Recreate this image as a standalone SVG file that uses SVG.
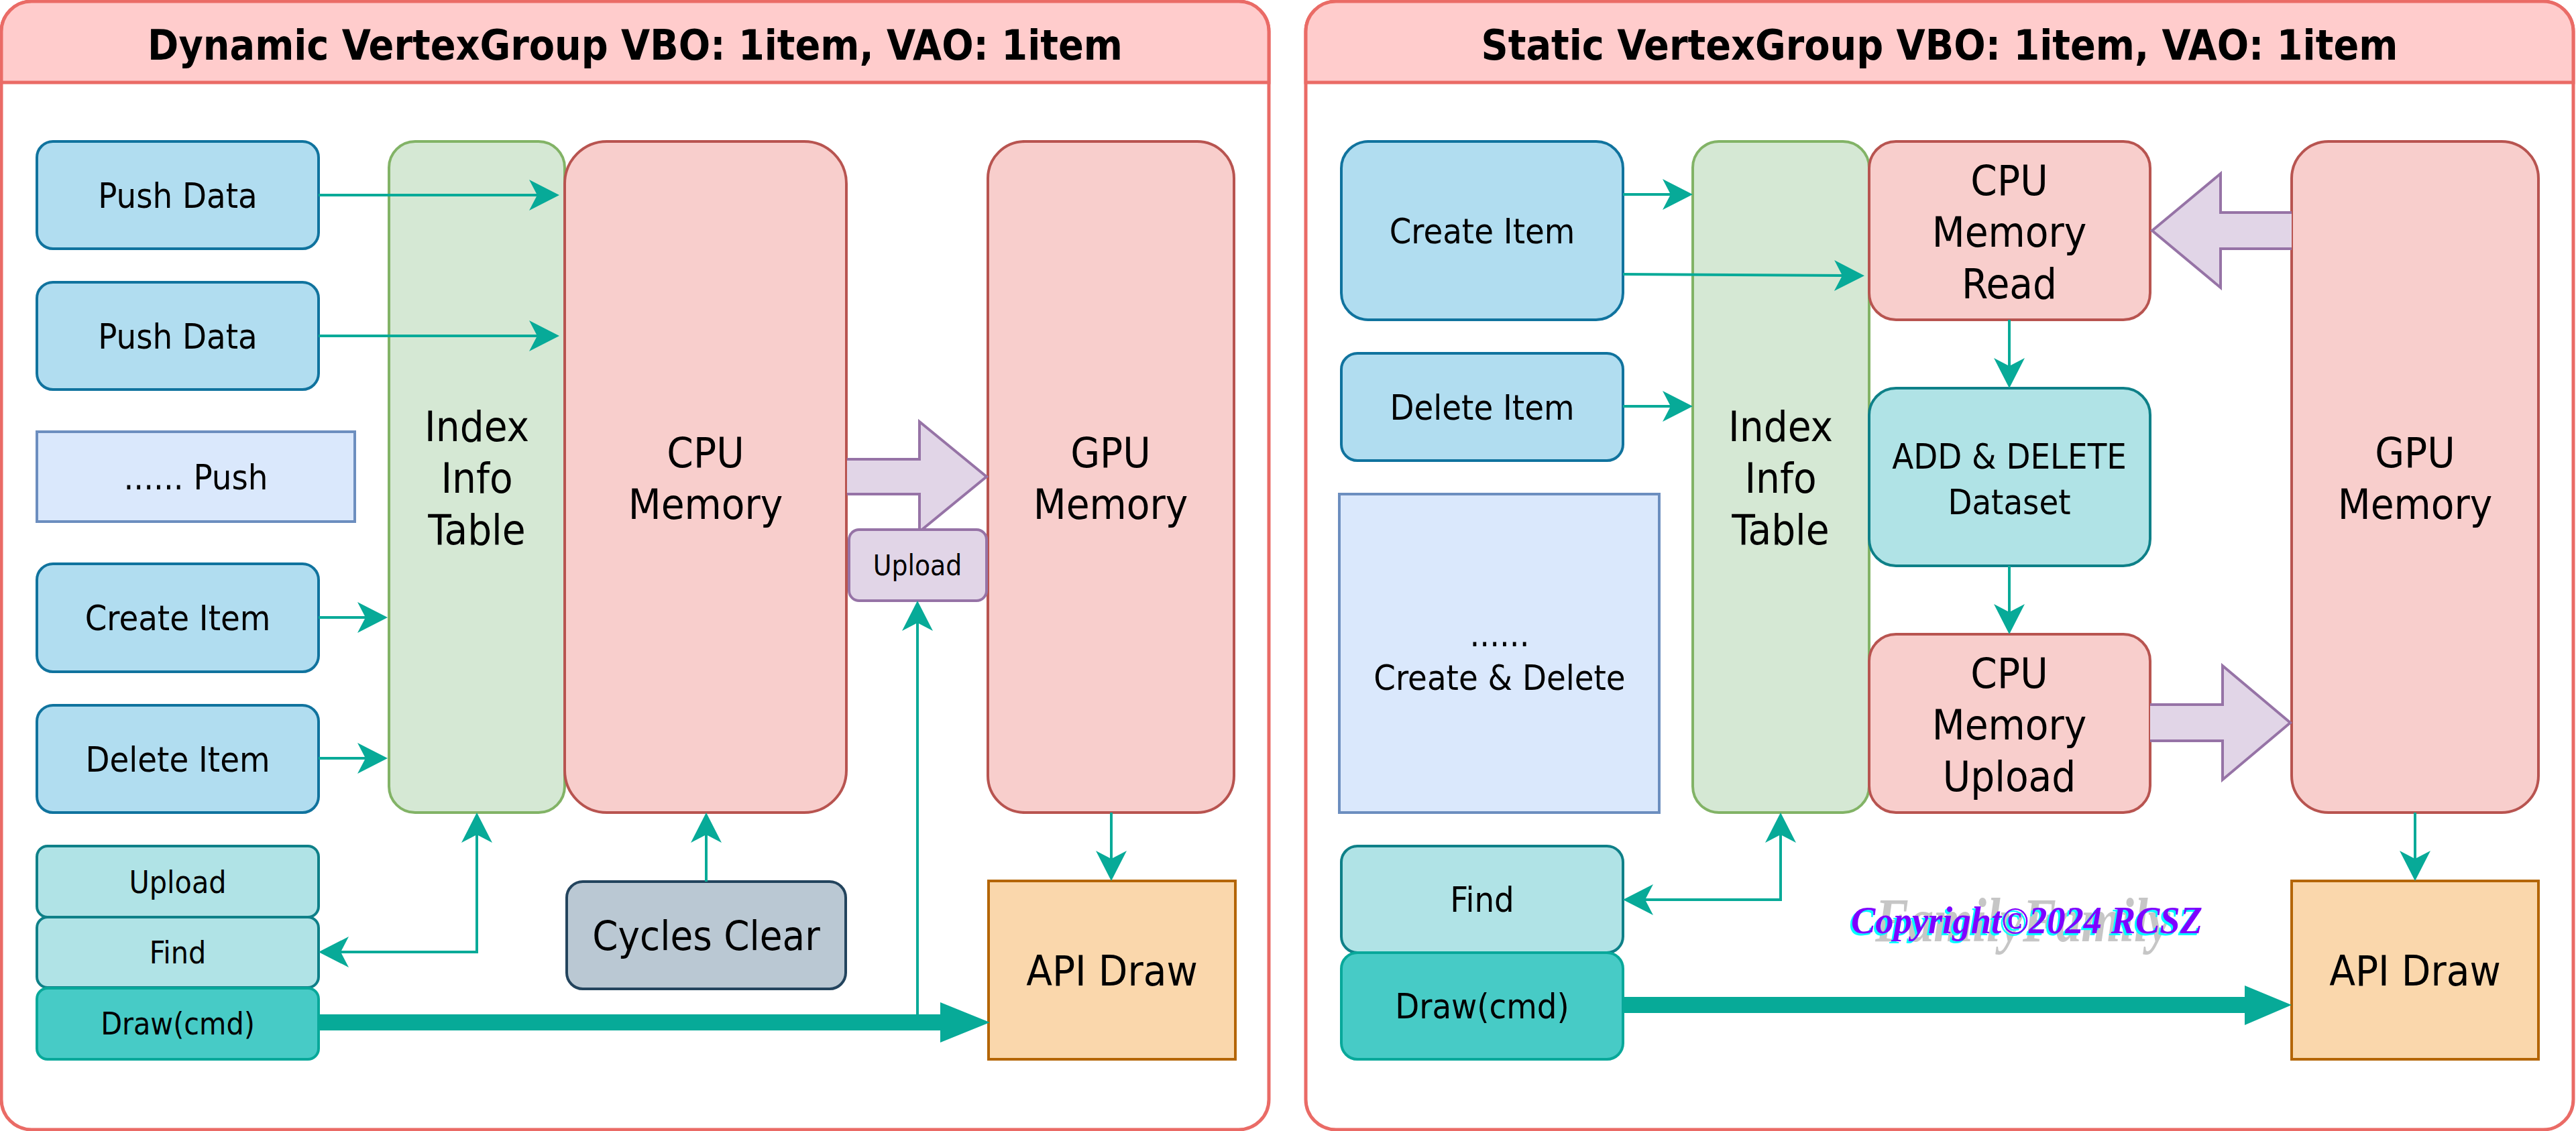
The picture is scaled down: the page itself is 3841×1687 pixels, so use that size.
<svg xmlns="http://www.w3.org/2000/svg" width="3841" height="1687" viewBox="0 0 3841 1687">
<style>
.t{font-family:"DejaVu Sans Condensed","DejaVu Sans",sans-serif;font-stretch:condensed;text-anchor:middle;fill:#000}
.title{font-weight:bold;font-size:62px}
.s46{font-size:46px}.s42{font-size:42px}.s52{font-size:52px}.s63{font-size:63px}.s61{font-size:61px}
.panel{fill:#fff;stroke:#EA6B66;stroke-width:5}
.head{fill:#FFCCCC;stroke:#EA6B66;stroke-width:5}
.blue{fill:#B1DDF0;stroke:#10739E;stroke-width:4}
.lblue{fill:#DAE8FC;stroke:#6C8EBF;stroke-width:4}
.green{fill:#D5E8D4;stroke:#82B366;stroke-width:4}
.red{fill:#F8CECC;stroke:#B85450;stroke-width:4}
.purple{fill:#E1D5E7;stroke:#9673A6;stroke-width:4}
.lteal{fill:#B0E3E6;stroke:#0E8088;stroke-width:4}
.dteal{fill:#47CBC6;stroke:#08A89A;stroke-width:4}
.gray{fill:#BAC8D3;stroke:#23445D;stroke-width:4}
.orange{fill:#FAD7AC;stroke:#B46504;stroke-width:4}
.c{fill:none;stroke:#07AA98;stroke-width:4}
.end{marker-end:url(#ah)}
.both{marker-start:url(#ah);marker-end:url(#ah)}
.thick{fill:#07AA98;stroke:none}
.cp{font-family:"Liberation Serif",serif;font-style:italic;font-weight:bold}
</style>
<defs>
<marker id="ah" markerUnits="userSpaceOnUse" viewBox="-20 -24 54 48" refX="0" refY="0" markerWidth="54" markerHeight="48" orient="auto-start-reverse">
<path d="M30,0 L-15,-23 L-3,0 L-15,23 Z" fill="#07AA98"/>
</marker>
</defs>

<g id="panel-dynamic">
<rect class="panel" x="2" y="2" width="1890" height="1683" rx="45"/>
<path class="head" d="M2,123 V47 A45,45 0 0 1 47,2 H1847 A45,45 0 0 1 1892,47 V123 Z"/>
<text class="t title" x="947" y="89">Dynamic VertexGroup VBO: 1item, VAO: 1item</text>
</g>
<g id="panel-static">
<rect class="panel" x="1947" y="2" width="1890" height="1683" rx="45"/>
<path class="head" d="M1947,123 V47 A45,45 0 0 1 1992,2 H3792 A45,45 0 0 1 3837,47 V123 Z"/>
<text class="t title" x="2892" y="89">Static VertexGroup VBO: 1item, VAO: 1item</text>
</g>

<!-- Left panel nodes -->
<g id="d-push1"><rect class="blue" x="55" y="211" width="420" height="160" rx="24"/><text class="t s52" x="265" y="310">Push Data</text></g>
<g id="d-push2"><rect class="blue" x="55" y="421" width="420" height="160" rx="24"/><text class="t s52" x="265" y="520">Push Data</text></g>
<g id="d-pushmore"><rect class="lblue" x="55" y="644" width="474" height="134"/><text class="t s52" x="292" y="730">...... Push</text></g>
<g id="d-create"><rect class="blue" x="55" y="841" width="420" height="161" rx="24"/><text class="t s52" x="265" y="940">Create Item</text></g>
<g id="d-delete"><rect class="blue" x="55" y="1052" width="420" height="160" rx="24"/><text class="t s52" x="265" y="1151">Delete Item</text></g>
<g id="d-index"><rect class="green" x="580" y="211" width="262" height="1001" rx="39"/><text class="t s63" x="711" y="658">Index</text><text class="t s63" x="711" y="735">Info</text><text class="t s63" x="711" y="812">Table</text></g>
<g id="d-cpu"><rect class="red" x="842" y="211" width="420" height="1001" rx="63"/><text class="t s63" x="1052" y="697">CPU</text><text class="t s63" x="1052" y="774">Memory</text></g>
<g id="d-gpu"><rect class="red" x="1473" y="211" width="367" height="1001" rx="55"/><text class="t s63" x="1656" y="697">GPU</text><text class="t s63" x="1656" y="774">Memory</text></g>
<g id="d-arrow-upload"><path class="purple" d="M1263,685 H1371 V629 L1471,711 L1371,793 V737 H1263"/></g>
<g id="d-upload-tag"><rect class="purple" x="1266" y="790" width="205" height="106" rx="15"/><text class="t s42" x="1368" y="858">Upload</text></g>
<g id="d-upload"><rect class="lteal" x="55" y="1262" width="420" height="106" rx="16"/><text class="t s46" x="265" y="1332">Upload</text></g>
<g id="d-find"><rect class="lteal" x="55" y="1368" width="420" height="105" rx="16"/><text class="t s46" x="265" y="1437">Find</text></g>
<g id="d-draw"><rect class="dteal" x="55" y="1474" width="420" height="106" rx="16"/><text class="t s46" x="265" y="1543">Draw(cmd)</text></g>
<g id="d-cycles"><rect class="gray" x="845" y="1315" width="416" height="160" rx="24"/><text class="t s61" x="1053" y="1417">Cycles Clear</text></g>
<g id="d-api"><rect class="orange" x="1474" y="1314" width="368" height="266"/><text class="t s63" x="1658" y="1470">API Draw</text></g>

<!-- Right panel nodes -->
<g id="s-create"><rect class="blue" x="2000" y="211" width="420" height="266" rx="40"/><text class="t s52" x="2210" y="363">Create Item</text></g>
<g id="s-delete"><rect class="blue" x="2000" y="527" width="420" height="160" rx="24"/><text class="t s52" x="2210" y="626">Delete Item</text></g>
<g id="s-more"><rect class="lblue" x="1997" y="737" width="477" height="475"/><text class="t s52" x="2236" y="964">......</text><text class="t s52" x="2236" y="1029">Create &amp; Delete</text></g>
<g id="s-index"><rect class="green" x="2524" y="211" width="263" height="1001" rx="39"/><text class="t s63" x="2655" y="658">Index</text><text class="t s63" x="2655" y="735">Info</text><text class="t s63" x="2655" y="812">Table</text></g>
<g id="s-cpuread"><rect class="red" x="2787" y="211" width="419" height="266" rx="40"/><text class="t s63" x="2996" y="291">CPU</text><text class="t s63" x="2996" y="368">Memory</text><text class="t s63" x="2996" y="445">Read</text></g>
<g id="s-adddel"><rect class="lteal" x="2787" y="579" width="419" height="265" rx="40"/><text class="t s52" x="2996" y="699">ADD &amp; DELETE</text><text class="t s52" x="2996" y="767">Dataset</text></g>
<g id="s-cpuupload"><rect class="red" x="2787" y="946" width="419" height="266" rx="40"/><text class="t s63" x="2996" y="1026">CPU</text><text class="t s63" x="2996" y="1103">Memory</text><text class="t s63" x="2996" y="1180">Upload</text></g>
<g id="s-gpu"><rect class="red" x="3417" y="211" width="368" height="1001" rx="55"/><text class="t s63" x="3601" y="697">GPU</text><text class="t s63" x="3601" y="774">Memory</text></g>
<g id="s-arrow-read"><path class="purple" d="M3417,317 H3311 V259 L3209,344 L3311,429 V371 H3417"/></g>
<g id="s-arrow-upload"><path class="purple" d="M3206,1051 H3314 V993 L3415,1078 L3314,1163 V1105 H3206"/></g>
<g id="s-find"><rect class="lteal" x="2000" y="1262" width="420" height="159" rx="24"/><text class="t s52" x="2210" y="1360">Find</text></g>
<g id="s-draw"><rect class="dteal" x="2000" y="1421" width="420" height="159" rx="24"/><text class="t s52" x="2210" y="1519">Draw(cmd)</text></g>
<g id="s-api"><rect class="orange" x="3417" y="1314" width="368" height="266"/><text class="t s63" x="3601" y="1470">API Draw</text></g>

<g id="connectors">
<path class="c end" d="M475,291 H804"/>
<path class="c end" d="M475,501 H804"/>
<path class="c end" d="M475,921 H548"/>
<path class="c end" d="M475,1131 H548"/>
<path class="c both" d="M711,1242 V1420 H505"/>
<path class="c end" d="M1053,1315 V1242"/>
<path class="c end" d="M1657,1212 V1284"/>
<path class="c end" d="M1368,1513 V926"/>
<path class="thick" d="M475,1513 H1402 V1495 L1476,1525 L1402,1555 V1537 H475 Z"/>

<path class="c end" d="M2420,290 H2494"/>
<path class="c end" d="M2420,409 L2750,411"/>
<path class="c end" d="M2420,606 H2494"/>
<path class="c end" d="M2996,477 V549"/>
<path class="c end" d="M2996,844 V916"/>
<path class="c both" d="M2655,1242 V1342 H2450"/>
<path class="c end" d="M3601,1212 V1284"/>
<path class="thick" d="M2420,1487 H3347 V1470 L3417,1499 L3347,1529 V1511 H2420 Z"/>
</g>

<g id="copyright">
<text class="cp" x="2796" y="1404" font-size="94" fill="#C6C6C6" textLength="440" lengthAdjust="spacingAndGlyphs">FamilyFamily</text>
<text class="cp" x="2757" y="1395" font-size="56" fill="#00FFFF" textLength="524" lengthAdjust="spacingAndGlyphs">Copyright©2024 RCSZ</text>
<text class="cp" x="2760" y="1392" font-size="56" fill="#7F00FF" textLength="524" lengthAdjust="spacingAndGlyphs">Copyright©2024 RCSZ</text>
</g>
</svg>
